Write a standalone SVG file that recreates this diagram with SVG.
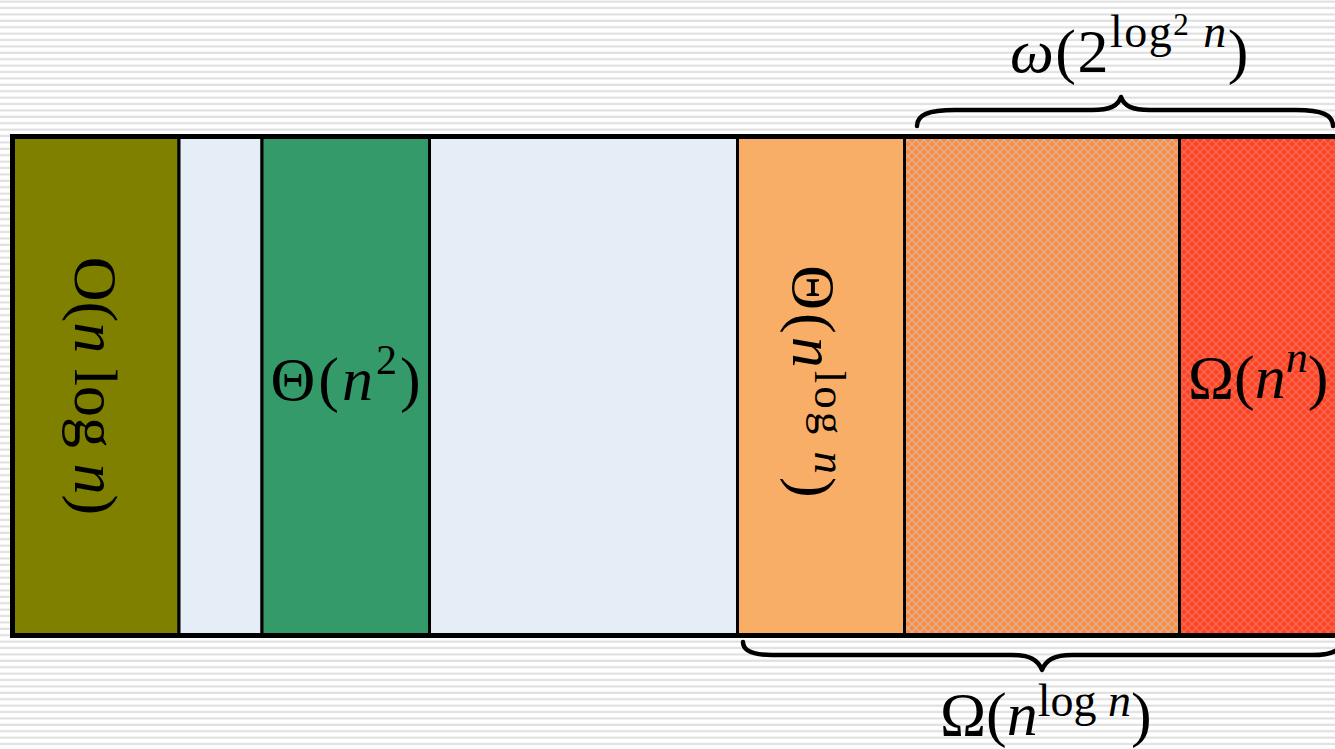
<svg xmlns="http://www.w3.org/2000/svg" width="1335" height="749" viewBox="0 0 1335 749">
  <defs>
    <pattern id="stripes" x="0" y="0" width="20" height="6.4" patternUnits="userSpaceOnUse">
      <rect x="0" y="0" width="20" height="6.4" fill="#ffffff"/>
      <rect x="0" y="0.6" width="20" height="2" fill="#dedede"/>
    </pattern>
    <pattern id="latticeOrange" x="0" y="0" width="8" height="8" patternUnits="userSpaceOnUse">
      <rect x="0" y="0" width="8" height="8" fill="#fc8b3d"/>
      <path d="M0,0 L8,8 M8,0 L0,8" stroke="#dcb39a" stroke-width="1.3" fill="none"/>
    </pattern>
    <pattern id="latticeRed" x="0" y="0" width="8" height="8" patternUnits="userSpaceOnUse">
      <rect x="0" y="0" width="8" height="8" fill="#fe4224"/>
      <path d="M0,0 L8,8 M8,0 L0,8" stroke="#f46a52" stroke-width="1.3" fill="none"/>
    </pattern>
  </defs>
  <style>
    .box { stroke: #000000; stroke-width: 3; }
    .lbl { font-family: "Liberation Serif", "DejaVu Serif", serif; font-size: 62px; fill: #000000; }
    .it { font-style: italic; }
    .brace { fill: none; stroke: #000000; stroke-width: 4.5; stroke-linecap: round; stroke-linejoin: round; }
  </style>

  <rect x="0" y="0" width="1335" height="749" fill="url(#stripes)"/>

  <g id="node-olive">
    <rect class="box" x="12.5" y="136.5" width="166.5" height="499" fill="#7f7f00"/>
    <text class="lbl" text-anchor="middle" transform="translate(75,386) rotate(90)">O(<tspan class="it">n</tspan> log <tspan class="it">n</tspan>)</text>
  </g>
  <g id="node-blank1">
    <rect class="box" x="179" y="136.5" width="83" height="499" fill="#e5edf7"/>
  </g>
  <g id="node-green">
    <rect class="box" x="262" y="136.5" width="167.5" height="499" fill="#359a69"/>
    <text class="lbl" x="347" y="400" text-anchor="middle" letter-spacing="3">Θ(<tspan class="it">n</tspan><tspan dy="-26" font-size="42">2</tspan><tspan dy="26">)</tspan></text>
  </g>
  <g id="node-blank2">
    <rect class="box" x="429.5" y="136.5" width="308" height="499" fill="#e5edf7"/>
  </g>
  <g id="node-orange">
    <rect class="box" x="737.5" y="136.5" width="167" height="499" fill="#f8ae67"/>
    <text class="lbl" text-anchor="middle" letter-spacing="3" transform="translate(793,383) rotate(90)">Θ(<tspan class="it">n</tspan><tspan dy="-22" font-size="45">log <tspan class="it">n</tspan></tspan><tspan dy="22">)</tspan></text>
  </g>
  <g id="node-hatched">
    <rect class="box" x="904.5" y="136.5" width="275" height="499" fill="url(#latticeOrange)"/>
  </g>
  <g id="node-red">
    <rect class="box" x="1179.5" y="136.5" width="170" height="499" fill="url(#latticeRed)"/>
    <text class="lbl" x="1188" y="398">Ω(<tspan class="it">n</tspan><tspan class="it" dy="-26" font-size="44">n</tspan><tspan dy="26">)</tspan></text>
  </g>

  <rect x="12.5" y="136.5" width="1340" height="499" fill="none" stroke="#000000" stroke-width="5"/>

  <g id="connectors">
    <path class="brace" d="M917,126 C917,115 928,110 955,110 L1092,110 C1110,110 1118,106 1121,97 C1124,106 1132,110 1150,110 L1296,110 C1322,110 1333,115 1333,126"/>
    <path class="brace" d="M743,642 C743,651 752,655 772,655 L1012,655 C1030,655 1038,660 1042,670 C1046,660 1054,655 1072,655 L1312,655 C1332,655 1341,651 1341,642"/>
  </g>

  <g id="label-top">
    <text class="lbl" x="1010" y="72" letter-spacing="1.5"><tspan class="it">ω</tspan>(2<tspan dy="-25" font-size="46">log</tspan><tspan dy="-12" font-size="31">2</tspan><tspan dy="12" font-size="46"> <tspan class="it">n</tspan></tspan><tspan dy="25">)</tspan></text>
  </g>
  <g id="label-bottom">
    <text class="lbl" x="940" y="735">Ω(<tspan class="it">n</tspan><tspan dy="-19" font-size="46">log <tspan class="it">n</tspan></tspan><tspan dy="19">)</tspan></text>
  </g>
</svg>
